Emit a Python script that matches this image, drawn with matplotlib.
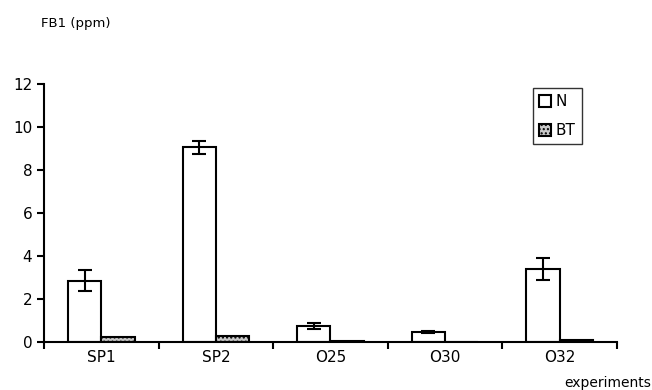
import numpy as np
import matplotlib.pyplot as plt

# data
experiments = ["SP1", "SP2", "O25", "O30", "O32"]
n_vals = [2.85, 9.05, 0.75, 0.45, 3.4]
n_err = [0.5, 0.3, 0.15, 0.05, 0.5]
bt_vals = [0.25, 0.3, 0.05, 0.02, 0.1]

x = np.arange(len(experiments))
w = 0.29

fig = plt.figure(figsize=(6.52, 3.9), dpi=100)
ax = fig.add_axes([0.0675, 0.123, 0.8785, 0.662])

ax.bar(x - w / 2, n_vals, w, color="white", edgecolor="black", linewidth=1.5,
       yerr=n_err, capsize=5, error_kw=dict(elinewidth=1.5, capthick=1.5),
       label="N")
ax.bar(x + w / 2, bt_vals, w, color="#c8c8c8", edgecolor="black", linewidth=1.5,
       hatch="....", label="BT")

ax.set_xlim(-0.5, len(experiments) - 0.5)
ax.set_ylim(0, 12)
ax.set_yticks(range(0, 13, 2))
ax.set_xticks(np.arange(-0.5, len(experiments), 1))
ax.set_xticklabels([])
ax.set_xticks(x, minor=True)
ax.set_xticklabels(experiments, minor=True)
ax.tick_params(axis="x", which="minor", length=0, labelsize=11, pad=6)
ax.tick_params(axis="x", which="major", direction="out", length=5, width=1.5)
ax.tick_params(axis="y", direction="out", length=5, width=1.5, labelsize=11)

for s in ["top", "right"]:
    ax.spines[s].set_visible(False)
for s in ["left", "bottom"]:
    ax.spines[s].set_linewidth(1.5)

fig.text(0.063, 0.93, "FB1 (ppm)", fontsize=9.5)
fig.text(0.998, 0.008, "experiments", fontsize=10, ha="right")

leg = ax.legend(loc="upper left", bbox_to_anchor=(0.817, 0.774),
                bbox_transform=fig.transFigure, fontsize=11,
                frameon=True, fancybox=False, edgecolor="black",
                handlelength=0.8, handleheight=0.8, handletextpad=0.3,
                labelspacing=0.9, borderpad=0.4, borderaxespad=0)
leg.get_frame().set_linewidth(1.0)

fig.savefig("out.png", dpi=100)
